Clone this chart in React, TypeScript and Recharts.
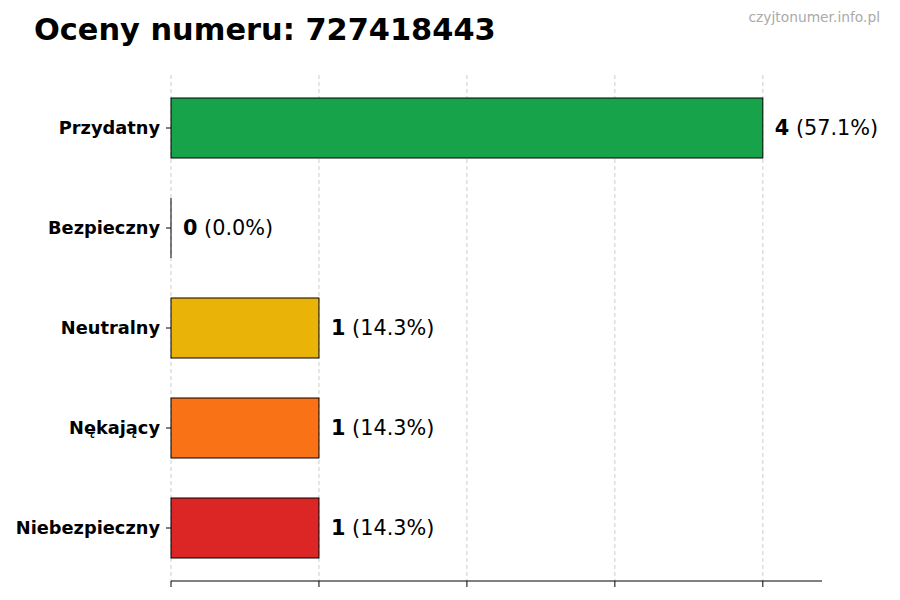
import React from 'react';
import { BarChart, Bar, XAxis, YAxis, CartesianGrid, Cell, LabelList } from 'recharts';

const categories = ['Przydatny', 'Bezpieczny', 'Neutralny', 'Nękający', 'Niebezpieczny'];
const counts = [4, 0, 1, 1, 1];
const colors = ['#16a34a', '#16a34a', '#eab308', '#f97316', '#dc2626'];
const xTicks = [0, 1, 2, 3, 4];

const total = counts.reduce((a, b) => a + b, 0);
const data = categories.map((name, i) => ({ name, value: counts[i] }));

const FONT = '"DejaVu Sans", sans-serif';

const BarShape = (props: any) => {
  const { x, y, width, height, fill } = props;
  if (!width) {
    return <line x1={x} x2={x} y1={y} y2={y + height} stroke="#000" strokeWidth={1} />;
  }
  return <rect x={x} y={y} width={width} height={height} fill={fill} stroke="#000" strokeWidth={1} />;
};

const ValueLabel = (props: any) => {
  const { x, y, width, height, value, index } = props;
  const pct = ((counts[index] / total) * 100).toFixed(1);
  return (
    <text
      x={x + width + 12}
      y={y + height / 2}
      dominantBaseline="central"
      fontFamily={FONT}
      fontSize={20.8}
      fill="#000"
    >
      <tspan fontWeight="bold">{value}</tspan>
      <tspan> ({pct}%)</tspan>
    </text>
  );
};

// x axis keeps its tick marks but shows no numbers
const NoTickLabel = () => <g />;

export default function App() {
  return (
    <div style={{ position: 'absolute', left: 0, top: 0, width: 900, height: 600, background: '#fff' }}>
      <svg width={900} height={70} style={{ position: 'absolute', left: 0, top: 0 }}>
        <text x={34} y={40} fontFamily={FONT} fontWeight="bold" fontSize={30.4} fill="#000">
          Oceny numeru: 727418443
        </text>
        <text x={880} y={22} textAnchor="end" fontFamily={FONT} fontSize={13.8} fill="#aaaaaa">
          czyjtonumer.info.pl
        </text>
      </svg>
      <div style={{ position: 'absolute', left: 0, top: 0 }}>
        <BarChart
          width={900}
          height={600}
          data={data}
          layout="vertical"
          margin={{ top: 75, right: 78, bottom: 9, left: 11 }}
        >
          <CartesianGrid horizontal={false} syncWithTicks stroke="#cccccc" strokeDasharray="4 3" />
          <XAxis
            type="number"
            domain={[0, 4.4]}
            ticks={xTicks}
            tick={<NoTickLabel />}
            tickSize={6}
            height={10}
            stroke="#000"
            axisLine={{ stroke: '#000' }}
            tickLine={{ stroke: '#000' }}
          />
          <YAxis
            type="category"
            dataKey="name"
            width={160}
            axisLine={false}
            stroke="#000"
            tickLine={{ stroke: '#000' }}
            tickSize={5}
            tickMargin={6}
            padding={{ top: 3, bottom: 3 }}
            tick={{ fontFamily: FONT, fontWeight: 'bold', fontSize: 17.8, fill: '#000' }}
          />
          <Bar dataKey="value" barSize={60} shape={<BarShape />} isAnimationActive={false}>
            {data.map((d, i) => (
              <Cell key={d.name} fill={colors[i]} />
            ))}
            <LabelList dataKey="value" content={<ValueLabel />} />
          </Bar>
        </BarChart>
      </div>
    </div>
  );
}
